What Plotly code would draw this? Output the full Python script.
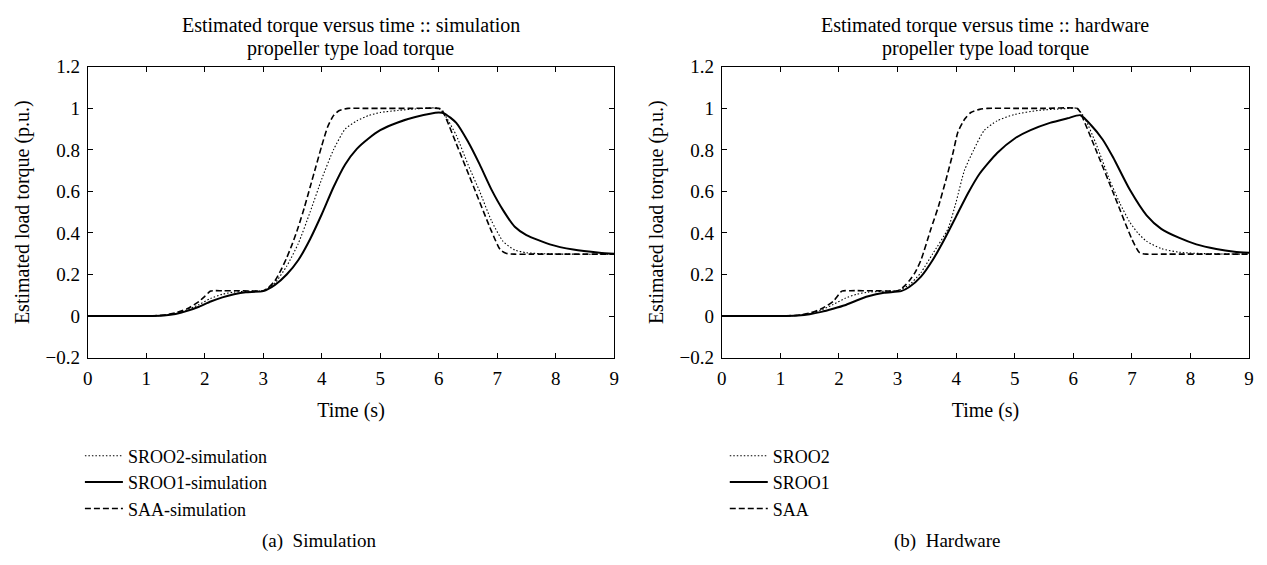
import plotly.graph_objects as go

# ---------------- data ----------------
# Simulation panel
sim_saa_t = [0, 1.0, 1.3, 1.5, 1.7, 1.9, 2.0, 2.1, 2.3, 2.6, 3.0, 3.1, 3.2, 3.3, 3.4, 3.5, 3.6, 3.7, 3.8, 3.9, 4.0, 4.1, 4.2, 4.3, 4.45, 4.7, 5.0, 5.5, 6.0, 6.05, 6.3, 6.6, 6.9, 7.05, 7.15, 7.3, 7.6, 8.0, 9.0]
sim_saa_y = [0, 0, 0.005, 0.015, 0.035, 0.07, 0.095, 0.12, 0.122, 0.122, 0.122, 0.14, 0.17, 0.22, 0.28, 0.35, 0.43, 0.52, 0.62, 0.72, 0.82, 0.91, 0.965, 0.99, 1.0, 1.0, 1.0, 1.0, 1.0, 0.995, 0.83, 0.62, 0.41, 0.32, 0.302, 0.298, 0.298, 0.298, 0.298]

sim_sroo2_t = [0, 1.0, 1.3, 1.5, 1.7, 1.9, 2.1, 2.3, 2.5, 2.8, 3.0, 3.2, 3.4, 3.6, 3.8, 4.0, 4.2, 4.4, 4.6, 4.8, 5.0, 5.3, 5.6, 6.0, 6.1, 6.3, 6.5, 6.7, 6.9, 7.1, 7.3, 7.5, 7.8, 8.2, 9.0]
sim_sroo2_y = [0, 0, 0.004, 0.012, 0.03, 0.055, 0.085, 0.105, 0.115, 0.12, 0.122, 0.16, 0.24, 0.35, 0.5, 0.66, 0.8, 0.9, 0.94, 0.965, 0.98, 0.99, 0.997, 1.0, 0.97, 0.87, 0.73, 0.6, 0.46, 0.36, 0.318, 0.305, 0.3, 0.298, 0.298]

sim_sroo1_t = [0, 1.0, 1.3, 1.5, 1.7, 1.9, 2.1, 2.3, 2.5, 2.7, 3.0, 3.2, 3.4, 3.6, 3.8, 4.0, 4.2, 4.4, 4.6, 4.8, 5.0, 5.3, 5.6, 6.0, 6.1, 6.3, 6.5, 6.7, 6.9, 7.1, 7.3, 7.5, 7.9, 8.3, 8.75, 9.0]
sim_sroo1_y = [0, 0, 0.003, 0.01, 0.025, 0.045, 0.07, 0.09, 0.105, 0.115, 0.12, 0.15, 0.2, 0.27, 0.37, 0.49, 0.62, 0.73, 0.805, 0.855, 0.895, 0.932, 0.958, 0.98, 0.975, 0.93, 0.84, 0.73, 0.61, 0.51, 0.43, 0.39, 0.345, 0.32, 0.305, 0.3]

# Hardware panel
hw_saa_t = [0, 1.0, 1.3, 1.5, 1.7, 1.9, 2.05, 2.2, 2.6, 3.0, 3.1, 3.2, 3.3, 3.4, 3.57, 3.7, 3.83, 3.95, 4.03, 4.15, 4.25, 4.4, 4.53, 5.0, 5.5, 6.06, 6.1, 6.4, 6.7, 7.0, 7.13, 7.25, 7.5, 8.0, 9.0]
hw_saa_y = [0, 0, 0.004, 0.014, 0.035, 0.07, 0.12, 0.122, 0.122, 0.122, 0.14, 0.17, 0.21, 0.27, 0.42, 0.53, 0.66, 0.79, 0.886, 0.95, 0.98, 0.995, 1.0, 1.0, 1.0, 1.0, 0.99, 0.79, 0.58, 0.37, 0.305, 0.298, 0.298, 0.298, 0.298]

hw_sroo2_t = [0, 1.0, 1.3, 1.5, 1.7, 1.9, 2.1, 2.3, 2.5, 2.8, 3.0, 3.2, 3.4, 3.6, 3.86, 4.0, 4.14, 4.3, 4.48, 4.7, 4.99, 5.4, 5.83, 6.06, 6.2, 6.4, 6.62, 6.8, 6.96, 7.1, 7.25, 7.5, 7.81, 8.3, 9.0]
hw_sroo2_y = [0, 0, 0.004, 0.012, 0.03, 0.055, 0.085, 0.105, 0.115, 0.12, 0.122, 0.15, 0.21, 0.3, 0.42, 0.55, 0.7, 0.8, 0.894, 0.94, 0.97, 0.99, 0.998, 1.0, 0.95, 0.82, 0.655, 0.54, 0.454, 0.4, 0.36, 0.325, 0.307, 0.3, 0.298]

hw_sroo1_t = [0, 1.0, 1.3, 1.5, 1.7, 1.9, 2.1, 2.3, 2.5, 2.77, 3.06, 3.2, 3.4, 3.6, 3.8, 4.0, 4.2, 4.4, 4.7, 5.0, 5.27, 5.6, 5.9, 6.12, 6.3, 6.5, 6.68, 6.96, 7.25, 7.5, 7.81, 8.1, 8.44, 8.75, 9.0]
hw_sroo1_y = [0, 0, 0.003, 0.009, 0.02, 0.035, 0.052, 0.075, 0.095, 0.112, 0.12, 0.14, 0.19, 0.27, 0.37, 0.48, 0.59, 0.685, 0.785, 0.855, 0.895, 0.93, 0.952, 0.967, 0.92, 0.85, 0.763, 0.61, 0.485, 0.42, 0.376, 0.345, 0.323, 0.31, 0.305]

x_ticks = [0, 1, 2, 3, 4, 5, 6, 7, 8, 9]
y_ticks = [-0.2, 0, 0.2, 0.4, 0.6, 0.8, 1.0, 1.2]

title_line1 = ["Estimated torque versus time :: simulation", "Estimated torque versus time :: hardware"]
title_line2 = ["propeller type load torque", "propeller type load torque"]
captions = ["(a)  Simulation", "(b)  Hardware"]
sim_names = ["SROO2-simulation", "SROO1-simulation", "SAA-simulation"]
hw_names = ["SROO2", "SROO1", "SAA"]

FONT = "Liberation Serif"
W, H = 1267, 565

fig = go.Figure()

def add_panel(ts, ys, names, xa, ya, legend):
    styles = [dict(dash="1.5px,2px", width=1.1), dict(dash="solid", width=2), dict(dash="6px,3px", width=1.6)]
    for i, (t, y, n) in enumerate(zip(ts, ys, names)):
        fig.add_trace(go.Scatter(
            x=t, y=y, name=n, mode="lines",
            line=dict(color="black", shape="spline", smoothing=0.6, **styles[i]),
            xaxis=xa, yaxis=ya, legend=legend, legendgroup=legend + str(i),
        ))

add_panel([sim_sroo2_t, sim_sroo1_t, sim_saa_t], [sim_sroo2_y, sim_sroo1_y, sim_saa_y], sim_names, "x", "y", "legend")
add_panel([hw_sroo2_t, hw_sroo1_t, hw_saa_t], [hw_sroo2_y, hw_sroo1_y, hw_saa_y], hw_names, "x2", "y2", "legend2")

px_l = [83.5, 722.5]
px_r = [614.0, 1254.0]
py_top, py_bot = 59.0, 361.0

axis_common = dict(showline=True, mirror="ticks", linecolor="black", linewidth=1,
                   ticks="inside", ticklen=5, tickcolor="black", showgrid=False, zeroline=False,
                   tickfont=dict(family=FONT, size=19, color="black"))

layout = dict(
    width=W, height=H, margin=dict(l=0, r=0, t=0, b=0),
    paper_bgcolor="white", plot_bgcolor="white",
    font=dict(family=FONT, color="black"),
    showlegend=True,
)
for k, (xa, ya) in enumerate([("xaxis", "yaxis"), ("xaxis2", "yaxis2")]):
    xd = [px_l[k] / W, px_r[k] / W]
    yd = [1 - py_bot / H, 1 - py_top / H]
    suffix = "" if k == 0 else "2"
    layout[xa] = dict(domain=xd, range=[0, 9], tickvals=x_ticks, anchor="y" + suffix, ticklabelstandoff=4,
                      title=dict(text="Time (s)", font=dict(family=FONT, size=20, color="black"), standoff=14),
                      **axis_common)
    layout[ya] = dict(domain=yd, range=[-0.2, 1.2], tickvals=y_ticks, anchor="x" + suffix, ticklabelstandoff=3,
                      title=dict(text="Estimated load torque (p.u.)", font=dict(family=FONT, size=20, color="black"), standoff=10),
                      **axis_common)
fig.update_layout(**layout)

legend_common = dict(font=dict(family=FONT, size=18, color="black"), bgcolor="rgba(0,0,0,0)",
                     tracegroupgap=0, itemwidth=38, yanchor="top", xanchor="left", traceorder="grouped")
fig.update_layout(
    legend=dict(x=(px_l[0] - 8) / W, y=1 - 444 / H, **legend_common),
    legend2=dict(x=(px_l[1] + 3) / W, y=1 - 444 / H, **legend_common),
)

annotations = []
for k in range(2):
    cx = (px_l[k] + px_r[k]) / 2 / W
    annotations.append(dict(x=cx, y=1 - 16 / H, xref="paper", yref="paper", text=title_line1[k],
                            showarrow=False, xanchor="center", yanchor="middle",
                            font=dict(family=FONT, size=20, color="black")))
    annotations.append(dict(x=cx, y=1 - 40 / H, xref="paper", yref="paper", text=title_line2[k],
                            showarrow=False, xanchor="center", yanchor="middle",
                            font=dict(family=FONT, size=20, color="black")))
    annotations.append(dict(x=(0.25 if k == 0 else 0.75), y=1 - 552 / H,
                            xref="paper", yref="paper", text=captions[k], showarrow=False,
                            xanchor="center", yanchor="middle",
                            font=dict(family=FONT, size=19, color="black")))
fig.update_layout(annotations=annotations)

fig.write_html("out.html")
